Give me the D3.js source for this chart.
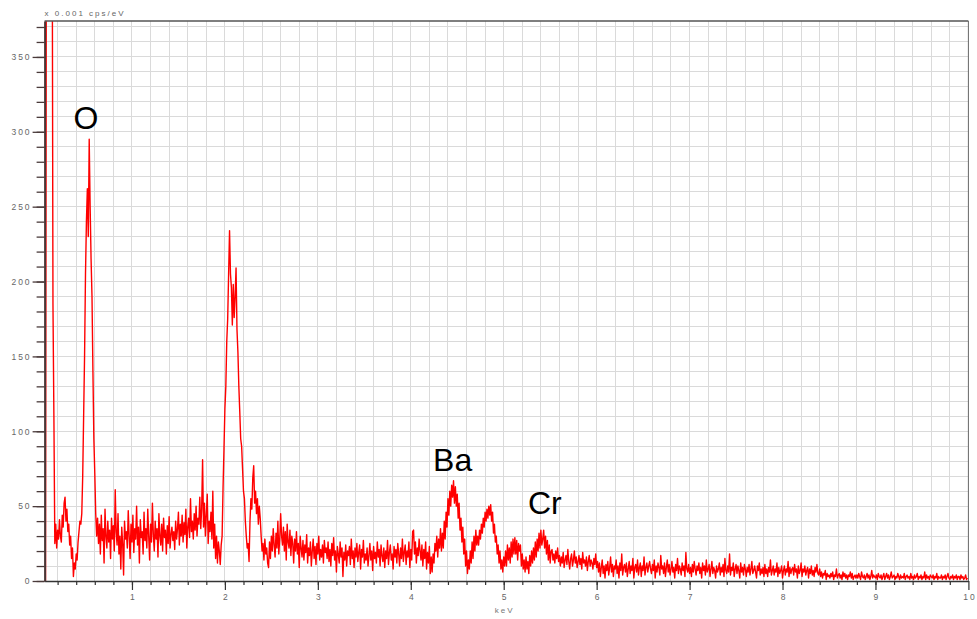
<!DOCTYPE html>
<html><head><meta charset="utf-8">
<script src="https://cdn.jsdelivr.net/npm/d3@7"></script>
<style>body{margin:0;background:#fff}</style>
</head><body><svg id="c" width="977" height="619"></svg>
<script>
// ---- data ----
const energyStart = 0.00;   // keV of the first channel
const energyStep = 0.01;    // keV per channel
const counts = [
0,0,0,0,0,
0,0,0,500,500,500,500,500,500,500,
185,110,25,38,22,34,28,41,30,26,
44,36,52,56,40,48,33,38,24,30,
15,22,3,12,8,18,14,26,33,40,
38,45,70,110,150,205,240,262,230,295,
250,215,190,140,95,72,45,30,42,25,
38,18,44,27,35,12,48,30,22,40,
26,34,15,42,28,37,20,61,33,24,
45,18,30,8,36,25,4,40,28,33,
22,47,30,15,38,26,44,19,35,28,
50,24,36,12,41,29,33,18,46,27,
35,22,48,30,14,38,26,52,31,20,
40,28,35,16,45,30,24,38,20,42,
29,34,18,37,25,43,22,31,36,27,
33,21,40,28,35,46,24,38,30,44,
26,39,31,48,22,36,42,29,55,33,
40,28,45,34,50,30,42,38,56,35,
48,81,36,52,30,44,58,25,40,33,
46,28,60,22,38,15,30,12,26,20,
11,24,30,62,88,115,130,160,175,205,
234,205,196,171,198,176,190,209,168,153,
130,113,95,90,75,60,55,40,30,22,
25,13,40,55,48,69,77,52,60,45,
55,38,50,42,30,20,25,14,28,
18,22,12,9,26,15,30,20,35,24,
16,32,22,40,18,28,45,30,24,36,
20,33,14,38,26,22,34,17,30,25,
12,28,20,33,18,25,9,30,22,16,
27,14,24,19,31,12,22,17,26,10,
20,28,15,23,11,25,18,30,14,21,
16,24,12,27,19,22,15,26,13,
21,10,25,17,29,14,20,6,23,18,
12,26,16,22,3,19,14,24,10,20,
17,23,11,28,15,20,9,22,16,25,
13,19,24,8,21,16,27,12,18,14,
22,10,17,25,14,20,7,23,15,19,
12,26,16,21,10,24,17,13,22,9,
20,15,27,11,19,24,14,18,8,23,
16,21,12,25,18,10,22,15,28,13,
19,24,11,20,16,26,9,21,14,33,
34,18,26,12,22,17,28,20,14,24,
10,21,15,26,8,19,12,23,5,16,
6,18,12,25,20,30,16,28,22,35,
20,32,22,40,28,46,36,55,44,60,
50,64,56,67,52,63,50,58,42,52,
34,42,26,36,18,28,10,20,5,14,
8,20,12,26,15,30,20,34,24,
30,24,34,28,38,32,42,36,46,40,
48,42,50,44,51,40,46,32,38,26,
30,18,24,12,20,8,14,6,16,10,
20,10,24,14,22,12,26,16,28,18,
29,18,27,14,25,20,24,10,18,8,
14,6,16,8,13,5,17,10,20,12,
22,14,26,16,28,20,32,22,34,24,
28,34,22,30,18,27,14,24,12,20,
21,14,18,12,20,15,22,13,17,10,
16,12,19,9,14,17,11,21,13,8,
15,18,10,14,20,12,16,9,13,17,
11,15,8,19,12,14,10,16,7,13,
17,10,14,12,8,15,11,18,9,13,
6,12,3,9,14,5,10,2,11,7,
13,4,9,16,6,11,3,10,8,14,
5,10,2,12,7,18,4,9,11,6,
12,3,8,13,5,10,7,15,2,9,
11,6,14,4,9,12,3,10,7,16,
4,9,12,6,10,13,8,5,11,
7,14,2,10,6,12,9,4,17,8,
10,5,12,3,9,14,6,11,4,8,
13,6,9,2,11,7,15,5,10,8,
4,12,7,10,3,19,8,6,11,5,
9,3,11,6,13,8,4,10,7,12,
5,9,2,12,7,10,4,14,6,8,
11,3,8,13,5,9,7,2,10,6,
8,12,4,9,6,11,3,15,7,5,
10,6,18,4,9,7,12,3,8,11,
5,10,7,2,12,6,9,4,11,8,
3,9,6,11,4,8,13,5,7,10,
6,2,10,7,12,4,8,5,9,3,
11,5,8,3,9,6,14,4,7,10,
4,8,6,12,3,9,5,7,10,2,
7,10,4,8,6,13,3,9,5,8,
9,4,11,6,8,2,10,5,7,12,
3,8,6,10,4,7,9,2,8,5,
10,4,7,3,9,6,11,5,4,8,
3,6,2,5,4,7,1,5,3,4,
2,5,3,6,1,4,3,8,2,4,
5,2,4,1,6,3,5,2,4,
1,4,3,6,2,5,1,3,4,2,
4,2,5,3,1,6,3,2,4,1,
3,5,2,4,1,3,7,2,4,3,
2,4,1,5,3,2,4,1,3,5,
1,3,5,2,4,1,3,6,2,3,
4,1,3,2,5,3,1,4,2,3,
2,5,1,3,4,2,3,1,5,2,
3,1,4,2,3,5,1,3,2,4,
1,3,2,6,1,4,2,3,1,4,
3,2,4,1,3,2,5,1,3,2,
2,4,1,3,2,4,1,3,5,2,
1,3,2,4,1,3,2,4,1,3,
3,1,4,2,3,1,2,4,1,2
];
const xMajorTicks = [1,2,3,4,5,6,7,8,9,10];
const yMajorTicks = [0,50,100,150,200,250,300,350];
const xDomain = [0.06, 10];
const yDomain = [0, 374];
const xAxisTitle = "keV";
const yAxisUnit = "x 0.001 cps/eV";
const peakLabels = ["O", "Ba", "Cr"];
const peakLabelEnergy = [0.37, 4.24, 5.26];
const peakLabelCounts = [302, 73.5, 44.8];

// ---- drawing ----
const svg = d3.select("#c");
const L = 44.6, R = 968.4, T = 21, B = 581;
const x = d3.scaleLinear().domain(xDomain).range([L, R]);
const y = d3.scaleLinear().domain(yDomain).range([B, T]);

const xMinor = d3.range(1, 50).map(i => +(i * 0.2).toFixed(1));
const yMinor = d3.range(0, 38).map(i => i * 10);

// grid
const grid = svg.append("g").attr("stroke", "#dadada").attr("stroke-width", 1).attr("shape-rendering", "crispEdges");
grid.selectAll("line.v").data(xMinor).join("line").attr("class","v")
  .attr("x1", d => x(d)).attr("x2", d => x(d)).attr("y1", T).attr("y2", B);
grid.selectAll("line.h").data(yMinor.filter(d => d > 0)).join("line").attr("class","h")
  .attr("x1", L).attr("x2", R).attr("y1", d => y(d)).attr("y2", d => y(d));

// spectrum
svg.append("clipPath").attr("id", "clip").append("rect")
  .attr("x", L).attr("y", T).attr("width", R - L).attr("height", B - T);
const line = d3.line()
  .x((d, i) => x(energyStart + i * energyStep))
  .y(d => y(d));
svg.append("path").datum(counts)
  .attr("clip-path", "url(#clip)")
  .attr("fill", "none").attr("stroke", "#ff0000").attr("stroke-width", 1.4)
  .attr("stroke-linejoin", "round")
  .attr("d", line);

// frame (top, right)
svg.append("line").attr("x1", L).attr("x2", R).attr("y1", T).attr("y2", T)
  .attr("stroke", "#555").attr("stroke-width", 1.5);
svg.append("line").attr("x1", R).attr("x2", R).attr("y1", T).attr("y2", B)
  .attr("stroke", "#666").attr("stroke-width", 1);

const labelStyle = sel => sel.selectAll("text")
  .attr("font-family", "Liberation Sans, Arial, sans-serif")
  .attr("font-size", 8.5).attr("letter-spacing", 2).attr("fill", "#666");

// y axis minor
svg.append("g").attr("transform", `translate(${L},0)`)
  .call(d3.axisLeft(y).tickValues(yMinor).tickSize(8).tickSizeOuter(0).tickFormat(""))
  .call(g => g.select(".domain").remove())
  .call(g => g.selectAll("line").attr("stroke", "#4a3a3a").attr("stroke-width", 1.3));
// y axis major
svg.append("g").attr("transform", `translate(${L},0)`)
  .call(d3.axisLeft(y).tickValues(yMajorTicks).tickSize(12).tickSizeOuter(0).tickPadding(1))
  .call(g => g.select(".domain").attr("stroke", "#4a3535").attr("stroke-width", 2))
  .call(g => g.selectAll("line").attr("stroke", "#4a3a3a").attr("stroke-width", 1.3))
  .call(labelStyle);

// x axis minor
svg.append("g").attr("transform", `translate(0,${B})`)
  .call(d3.axisBottom(x).tickValues(xMinor).tickSize(4).tickSizeOuter(0).tickFormat(""))
  .call(g => g.select(".domain").remove())
  .call(g => g.selectAll("line").attr("stroke", "#333").attr("stroke-width", 1.2));
// x axis major
svg.append("g").attr("transform", `translate(0,${B})`)
  .call(d3.axisBottom(x).tickValues(xMajorTicks).tickSize(9).tickSizeOuter(0).tickPadding(4))
  .call(g => g.select(".domain").attr("stroke", "#333").attr("stroke-width", 1.5))
  .call(g => g.selectAll("line").attr("stroke", "#333").attr("stroke-width", 1.2))
  .call(labelStyle)
  .call(g => g.selectAll("text").attr("dx", 1));

// axis titles
svg.append("text").attr("x", (x(5)) + 1).attr("y", 613).attr("text-anchor", "middle")
  .attr("font-family", "Liberation Sans, Arial, sans-serif").attr("font-size", 8)
  .attr("letter-spacing", 2).attr("fill", "#777").text(xAxisTitle);
svg.append("text").attr("x", L).attr("y", 16)
  .attr("font-family", "Liberation Sans, Arial, sans-serif").attr("font-size", 8)
  .attr("letter-spacing", 2).attr("fill", "#666").text(yAxisUnit);

// peak labels
svg.append("g").selectAll("text").data(peakLabels).join("text")
  .attr("x", (d, i) => x(peakLabelEnergy[i]))
  .attr("y", (d, i) => y(peakLabelCounts[i]))
  .attr("font-family", "Liberation Sans, Arial, sans-serif")
  .attr("font-size", 32).attr("fill", "#000")
  .text(d => d);
</script>
</body></html>
